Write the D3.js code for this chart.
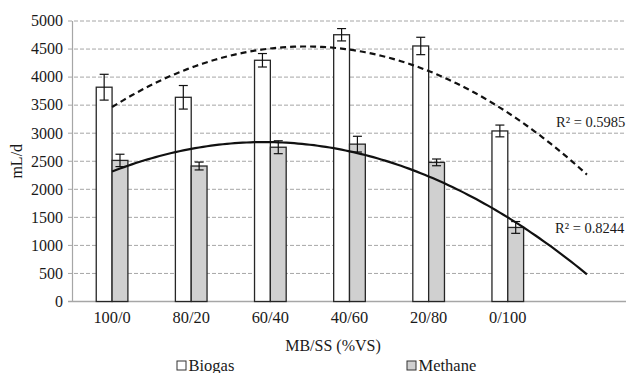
<!DOCTYPE html>
<html>
<head>
<meta charset="utf-8">
<script src="https://cdn.jsdelivr.net/npm/d3@7"></script>
<style>
  html, body { margin: 0; padding: 0; background: #fff; }
  #chart { width: 626px; height: 373px; }
  text { font-family: "Liberation Serif", "Times New Roman", serif; fill: #1a1a1a; }
</style>
</head>
<body>
<div id="chart"></div>
<script>
const categories = ['100/0', '80/20', '60/40', '40/60', '20/80', '0/100'];
const biogas = [3820, 3640, 4300, 4755, 4555, 3040];
const biogasErr = [230, 210, 120, 110, 155, 105];
const methane = [2515, 2415, 2750, 2805, 2480, 1320];
const methaneErr = [110, 70, 115, 140, 60, 105];
const yTicks = [0, 500, 1000, 1500, 2000, 2500, 3000, 3500, 4000, 4500, 5000];
const r2Labels = ['R² = 0.5985', 'R² = 0.8244'];

// least squares 2nd order polynomial, as the spreadsheet trendline does
function polyFit2(ys) {
  const xs = ys.map((_, i) => i + 1);
  const n = xs.length;
  const s = k => d3.sum(xs, x => Math.pow(x, k));
  const t = k => d3.sum(xs, (x, i) => Math.pow(x, k) * ys[i]);
  const A = [[n, s(1), s(2)], [s(1), s(2), s(3)], [s(2), s(3), s(4)]];
  const b = [t(0), t(1), t(2)];
  for (let i = 0; i < 3; i++) {
    for (let j = i + 1; j < 3; j++) {
      const f = A[j][i] / A[i][i];
      for (let k = i; k < 3; k++) A[j][k] -= f * A[i][k];
      b[j] -= f * b[i];
    }
  }
  const c = [0, 0, 0];
  for (let i = 2; i >= 0; i--) {
    let v = b[i];
    for (let k = i + 1; k < 3; k++) v -= A[i][k] * c[k];
    c[i] = v / A[i][i];
  }
  return x => c[0] + c[1] * x + c[2] * x * x;
}

const width = 626, height = 373;
const svg = d3.select('#chart').append('svg')
  .attr('width', width)
  .attr('height', height);

const plot = { left: 72.5, right: 626.5, top: 21, bottom: 301.5 };
const nSlots = categories.length + 1; // one forecast period for the trendlines

const x = d3.scaleLinear().domain([0.5, nSlots + 0.5]).range([plot.left, plot.right]);
const y = d3.scaleLinear().domain([0, 5000]).range([plot.bottom, plot.top]);
const band = x(2) - x(1);
const barW = band * 0.2;

// gridlines
svg.append('g')
  .selectAll('line')
  .data(yTicks.filter(d => d > 0))
  .join('line')
  .attr('x1', plot.left - 4.5)
  .attr('x2', width)
  .attr('y1', d => y(d))
  .attr('y2', d => y(d))
  .attr('stroke', '#a6a6a6')
  .attr('stroke-width', 1)
  .attr('stroke-dasharray', '4,2');

// axes
svg.append('line')
  .attr('x1', plot.left).attr('x2', plot.left)
  .attr('y1', plot.top).attr('y2', plot.bottom)
  .attr('stroke', '#a6a6a6').attr('stroke-width', 1.2);
svg.append('line')
  .attr('x1', plot.left - 4.5).attr('x2', width)
  .attr('y1', y(0)).attr('y2', y(0))
  .attr('stroke', '#a6a6a6').attr('stroke-width', 1.5);

svg.append('g')
  .selectAll('text')
  .data(yTicks)
  .join('text')
  .attr('x', 63)
  .attr('y', d => y(d) + 5.3)
  .attr('text-anchor', 'end')
  .attr('font-size', '16px')
  .text(d => d);

svg.append('g')
  .selectAll('text')
  .data(categories)
  .join('text')
  .attr('x', (d, i) => x(i + 1))
  .attr('y', 323)
  .attr('text-anchor', 'middle')
  .attr('font-size', '16.4px')
  .text(d => d);

svg.append('text')
  .attr('transform', `translate(22,${(plot.top + plot.bottom) / 2}) rotate(-90)`)
  .attr('text-anchor', 'middle')
  .attr('font-size', '16px')
  .text('mL/d');

svg.append('text')
  .attr('x', 333)
  .attr('y', 350.5)
  .attr('text-anchor', 'middle')
  .attr('font-size', '16px')
  .text('MB/SS (%VS)');

// bars
const series = [
  { name: 'Biogas', values: biogas, err: biogasErr, fill: '#ffffff', offset: -1 },
  { name: 'Methane', values: methane, err: methaneErr, fill: '#d0d0d0', offset: 0 },
];

series.forEach(s => {
  const g = svg.append('g');
  g.selectAll('rect')
    .data(s.values)
    .join('rect')
    .attr('x', (d, i) => x(i + 1) + s.offset * barW)
    .attr('y', d => y(d))
    .attr('width', barW)
    .attr('height', d => y(0) - y(d))
    .attr('fill', s.fill)
    .attr('stroke', '#262626')
    .attr('stroke-width', 1.3);

  const eb = g.selectAll('g.err')
    .data(s.values)
    .join('g')
    .attr('class', 'err');
  eb.append('line')
    .attr('x1', (d, i) => x(i + 1) + (s.offset + 0.5) * barW)
    .attr('x2', (d, i) => x(i + 1) + (s.offset + 0.5) * barW)
    .attr('y1', (d, i) => y(d + s.err[i]))
    .attr('y2', (d, i) => y(d - s.err[i]));
  [1, -1].forEach(sign => {
    eb.append('line')
      .attr('x1', (d, i) => x(i + 1) + (s.offset + 0.5) * barW - 4.5)
      .attr('x2', (d, i) => x(i + 1) + (s.offset + 0.5) * barW + 4.5)
      .attr('y1', (d, i) => y(d + sign * s.err[i]))
      .attr('y2', (d, i) => y(d + sign * s.err[i]));
  });
  eb.selectAll('line').attr('stroke', '#111').attr('stroke-width', 1.2);
});

// trendlines
const line = d3.line().x(d => x(d[0])).y(d => y(d[1]));
const steps = d3.range(1, nSlots + 0.001, 0.05);
const fitB = polyFit2(biogas);
const fitM = polyFit2(methane);

svg.append('path')
  .attr('d', line(steps.map(t => [t, fitB(t)])))
  .attr('fill', 'none')
  .attr('stroke', '#111')
  .attr('stroke-width', 2.2)
  .attr('stroke-dasharray', '6,4');

svg.append('path')
  .attr('d', line(steps.map(t => [t, fitM(t)])))
  .attr('fill', 'none')
  .attr('stroke', '#111')
  .attr('stroke-width', 2.2);

svg.append('text')
  .attr('x', 556).attr('y', 127)
  .attr('font-size', '14.5px')
  .text(r2Labels[0]);
svg.append('text')
  .attr('x', 555).attr('y', 233)
  .attr('font-size', '14.5px')
  .text(r2Labels[1]);

// legend
const legend = [
  { name: 'Biogas', fill: '#ffffff', x: 177 },
  { name: 'Methane', fill: '#d0d0d0', x: 407 },
];
const lg = svg.append('g').selectAll('g').data(legend).join('g');
lg.append('rect')
  .attr('x', d => d.x)
  .attr('y', 361)
  .attr('width', 9)
  .attr('height', 9)
  .attr('fill', d => d.fill)
  .attr('stroke', '#333')
  .attr('stroke-width', 1);
lg.append('text')
  .attr('x', d => d.x + 11.5)
  .attr('y', 370.5)
  .attr('font-size', '16.5px')
  .text(d => d.name);
</script>
</body>
</html>
